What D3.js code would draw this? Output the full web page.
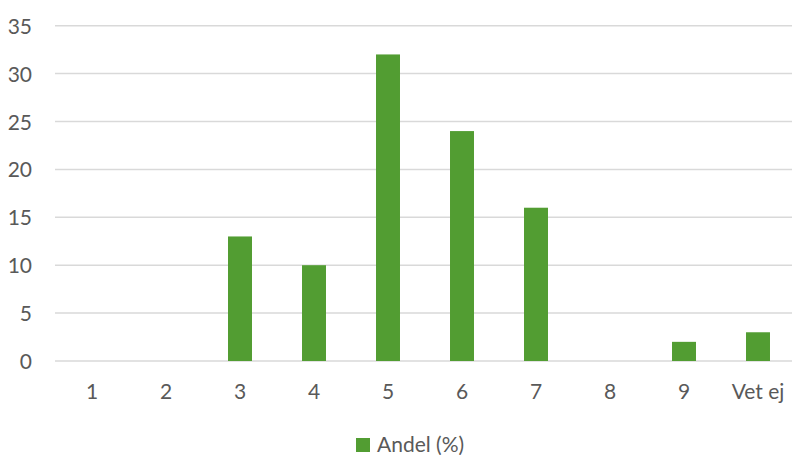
<!DOCTYPE html>
<html>
<head>
<meta charset="utf-8">
<script src="https://cdn.jsdelivr.net/npm/d3@7"></script>
<style>
  html, body { margin: 0; padding: 0; background: #fff; }
  svg { display: block; font-family: Lato, "Open Sans", sans-serif; }
</style>
</head>
<body>
<svg id="chart" width="792" height="455"></svg>
<script>
// Answer categories and share of respondents (%)
const categories = ["1", "2", "3", "4", "5", "6", "7", "8", "9", "Vet ej"];
const andel = [0, 0, 13, 10, 32, 24, 16, 0, 2, 3];
const yTicks = [0, 5, 10, 15, 20, 25, 30, 35];
const seriesName = "Andel (%)";

const svg = d3.select("#chart");
const barColor = "#529d32";
const textColor = "#595959";
const fontSize = "21px";

const x = d3.scaleBand()
  .domain(categories)
  .range([55, 795])
  .paddingInner(0.676)
  .paddingOuter(0.338);

const y = d3.scaleLinear()
  .domain([0, 35])
  .range([361, 25.7]);

// Horizontal gridlines
svg.append("g")
  .selectAll("line")
  .data(yTicks)
  .join("line")
  .attr("x1", 55)
  .attr("x2", 792)
  .attr("y1", d => y(d))
  .attr("y2", d => y(d))
  .attr("stroke", "#d9d9d9")
  .attr("stroke-width", 1.5);

// Y axis labels
const yAxis = svg.append("g")
  .attr("transform", "translate(55,0)")
  .call(d3.axisLeft(y).tickValues(yTicks).tickSize(0).tickPadding(23));
yAxis.select(".domain").remove();
yAxis.selectAll("text")
  .attr("fill", textColor)
  .attr("dy", "0.36em")
  .style("font-size", fontSize)
  .style("font-family", "Lato, 'Open Sans', sans-serif");

// Bars
svg.append("g")
  .selectAll("rect")
  .data(categories.map((c, i) => ({ c, v: andel[i] })))
  .join("rect")
  .attr("x", d => x(d.c))
  .attr("y", d => y(d.v))
  .attr("width", x.bandwidth())
  .attr("height", d => y(0) - y(d.v))
  .attr("fill", barColor);

// X axis labels
const xAxis = svg.append("g")
  .attr("transform", `translate(0,${y(0)})`)
  .call(d3.axisBottom(x).tickSize(0));
xAxis.select(".domain").remove();
xAxis.selectAll("text")
  .attr("fill", textColor)
  .attr("y", 38)
  .attr("dy", 0)
  .style("font-size", fontSize)
  .style("font-family", "Lato, 'Open Sans', sans-serif");

// Legend
const legend = svg.append("g").attr("transform", "translate(356,438)");
legend.append("rect")
  .attr("width", 14)
  .attr("height", 14)
  .attr("fill", barColor);
legend.append("text")
  .attr("x", 21)
  .attr("y", 14)
  .attr("fill", textColor)
  .style("font-size", fontSize)
  .text(seriesName);
</script>
</body>
</html>
